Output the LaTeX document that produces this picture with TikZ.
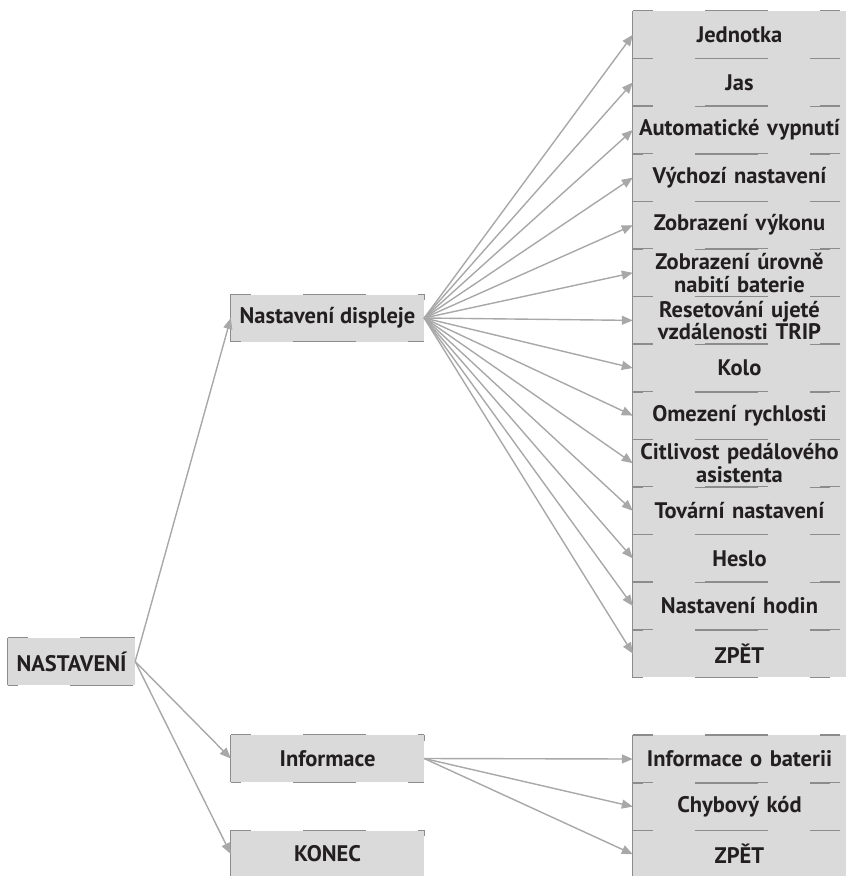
\documentclass[tikz,border=0pt]{standalone}
\usepackage{fontspec}
\setmainfont{PT Sans}
\usetikzlibrary{arrows.meta}
\definecolor{boxfill}{HTML}{DADADA}
\definecolor{boxline}{HTML}{8C8C8C}
\definecolor{arr}{HTML}{A8A8A8}
\definecolor{txt}{HTML}{231F20}
\tikzset{
  box/.style={fill=boxfill, inner sep=0pt, font=\bfseries\fontsize{22.5}{22.5}\selectfont, text=txt, align=center},
  rbox/.style={box, minimum width=213pt, minimum height=47.6pt, text width=211pt},
  mbox/.style={box, minimum width=193pt, minimum height=47pt},
  conn/.style={draw=arr, line width=1.4pt, -{Triangle[length=11pt,width=9pt]}, fill=arr},
  edgeL/.style={draw=boxline, line width=1.3pt},
  edgeT/.style={draw=boxline, line width=1.3pt, dash pattern=on 20pt off 52pt on 63pt off 52pt},
}
\begin{document}
\begin{tikzpicture}[x=1pt,y=-1pt]
\useasboundingbox (0,0) rectangle (846,876);
\begin{scope}
\clip (0,0) rectangle (846,876);
% root and middle
\node[box, minimum width=127pt, minimum height=47pt] (nast) at (71.5,661.5) {NASTAVENÍ};
\node[mbox] (disp) at (327.5,318) {Nastavení displeje};
\node[mbox] (info) at (327.5,758.5) {Informace};
\node[mbox] (konec) at (327.5,854) {KONEC};
% right column
\foreach \n/\t [count=\i from 0] in {
  r1/Jednotka, r2/Jas, r3/Automatické vypnutí, r4/Výchozí nastavení,
  r5/Zobrazení výkonu, r6/{Zobrazení úrovně\\nabití baterie},
  r7/{Resetování ujeté\\vzdálenosti TRIP}, r8/Kolo, r9/Omezení rychlosti,
  r10/{Citlivost pedálového\\asistenta}, r11/Tovární nastavení, r12/Heslo,
  r13/Nastavení hodin, r14/ZPĚT}{
  \node[rbox] (\n) at (739.5, 11+23.8+47.6*\i) {\t};
}
\node[rbox] (b1) at (739.5,759) {Informace o baterii};
\node[rbox] (b2) at (739.5,806.6) {Chybový kód};
\node[rbox] (b3) at (739.5,854.2) {ZPĚT};
% box borders
\foreach \n in {nast,disp,info,konec,r1,r2,r3,r4,r5,r6,r7,r8,r9,r10,r11,r12,r13,r14,b1,b2,b3}{
  \draw[edgeL] (\n.south west) -- (\n.north west);
  \draw[edgeT] (\n.north west) -- (\n.north east);
  \draw[edgeT, dash phase=10pt] (\n.south west) -- (\n.south east);
}
\foreach \n in {disp,info,konec}{
  \draw[edgeL] (\n.north east) -- ++(0,6);
}
\end{scope}
% connectors
\draw[conn] (nast.east) -- (disp.west);
\draw[conn] (nast.east) -- (info.west);
\draw[conn] (nast.east) -- (konec.west);
\foreach \n in {r1,r2,r3,r4,r5,r6,r7,r8,r9,r10,r11,r12,r13,r14}{
  \draw[conn] (disp.east) -- (\n.west);
}
\foreach \n in {b1,b2,b3}{
  \draw[conn] (info.east) -- (\n.west);
}
\end{tikzpicture}
\end{document}
